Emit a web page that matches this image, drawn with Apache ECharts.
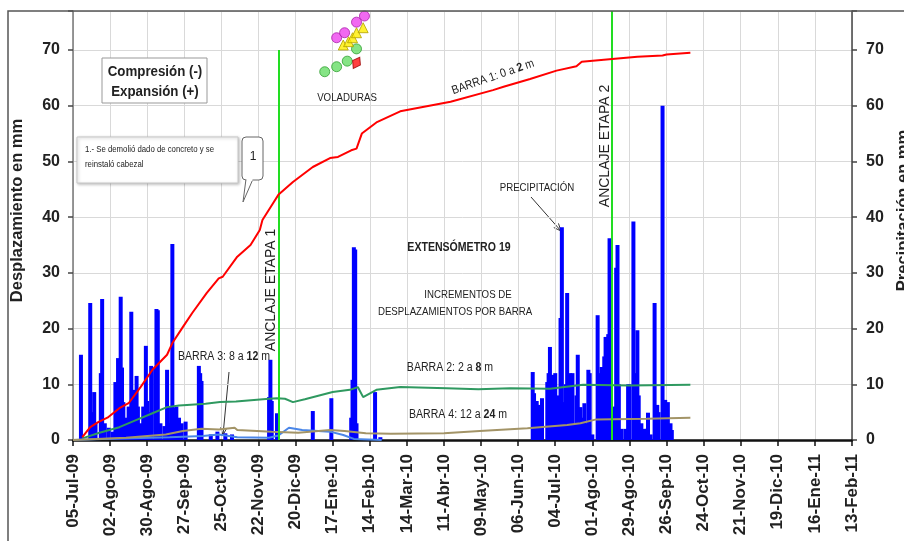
<!DOCTYPE html>
<html>
<head>
<meta charset="utf-8">
<script src="https://cdn.jsdelivr.net/npm/echarts@6/dist/echarts.min.js"></script>
<style>
  html, body { margin: 0; padding: 0; background: #fff; }
  #chart { width: 904px; height: 541px; }
</style>
</head>
<body>
<div id="chart"></div>
<script>
// eje x: dias contados desde 05-Jul-09, una marca cada 28 dias
var etiquetasX = ['05-Jul-09', '02-Ago-09', '30-Ago-09', '27-Sep-09', '25-Oct-09', '22-Nov-09',
  '20-Dic-09', '17-Ene-10', '14-Feb-10', '14-Mar-10', '11-Abr-10', '09-May-10', '06-Jun-10',
  '04-Jul-10', '01-Ago-10', '29-Ago-10', '26-Sep-10', '24-Oct-10', '21-Nov-10', '19-Dic-10',
  '16-Ene-11', '13-Feb-11']
var etiquetasY = [0, 10, 20, 30, 40, 50, 60, 70]

// precipitacion diaria (mm)
var lluviaDias = [6, 13, 14, 16, 17, 21, 22, 24, 27, 30, 32, 34, 36, 37, 38, 40, 42, 44, 46, 48, 49, 51,
  53, 55, 56, 58, 59, 62, 63, 64, 66, 69, 71, 72, 74, 75, 77, 78, 80, 82, 85, 95, 96, 97, 104, 109,
  115, 120, 148, 149, 150, 154, 181, 195, 210, 211, 212, 213, 214, 228, 232,
  347, 348, 350, 351, 354, 358, 359, 360, 362, 364, 366, 368, 369, 371, 372, 373, 375, 377, 378,
  380, 381, 383, 384, 386, 387, 389, 390, 392, 396, 398, 399, 401, 402, 404, 405, 406, 408, 410,
  411, 412, 414, 417, 419, 420, 423, 424, 426, 427, 429, 431, 433, 434, 436, 439, 441, 442, 445,
  447, 449, 451, 452]
var lluviaMm = [15.3, 24.6, 5, 8.6, 3, 12, 25.3, 3, 2.2, 1.5, 10.4, 14.7, 25.7, 13, 6.8, 4, 6, 23, 9,
  11.5, 6, 3, 6, 16.9, 7, 5, 13.3, 13, 23.5, 23.3, 3, 2.5, 12.6, 3, 6, 35.2, 5.8, 6, 4, 3, 3.3, 13.3,
  12, 10.6, 1, 1.5, 1.2, 1, 7.7, 14.4, 7, 4.8, 5.2, 7.5, 4, 10.8, 34.6, 34.2, 3, 8.6, 0.5,
  12.2, 8.4, 7, 6.3, 7.5, 10.4, 12, 16.7, 11.7, 12, 8, 21.9, 38.2, 6.8, 10, 26.4, 12, 12, 3,
  8, 15.3, 5.9, 4, 6.6, 3, 12.6, 12, 1, 22.4, 12, 13.1, 15, 18.5, 19, 36.2, 10, 6, 30.9,
  35, 10, 2, 2, 10, 10, 39.2, 12, 19.7, 8, 3, 2, 2, 4.9, 1, 24.6, 6.3, 5, 60,
  7.2, 6.8, 3, 1.8]

// barras del extensometro (mm)
var barra1Dias = [7, 13, 19, 26, 35, 42, 51, 60, 71, 75, 83, 90, 101, 110, 113, 124, 134, 141, 143,
  151, 155, 166, 181, 194, 200, 210, 214, 218, 229, 247, 269, 285, 317, 325, 345, 365, 380, 384,
  407, 426, 445, 448, 466]
var barra1Mm = [0.5, 2.3, 3.2, 4.0, 5.7, 6.6, 9.5, 12.6, 15.3, 17.4, 20.3, 22.8, 26.4, 29, 29.3, 32.9,
  35, 37.7, 39.5, 42.5, 44, 46.3, 49, 50.6, 50.8, 52, 52.3, 55, 57, 59, 60, 60.7, 62.8, 63.4, 64.8,
  66.3, 67.1, 67.9, 68.4, 68.8, 69, 69.2, 69.5]

var barra2Dias = [7, 20, 35, 48, 60, 71, 80, 86, 100, 111, 123, 148, 154, 160, 166, 175, 196, 209, 215,
  219, 229, 247, 282, 306, 330, 360, 385, 420, 466]
var barra2Mm = [0.3, 1.3, 2.3, 3.6, 4.8, 5.9, 6.2, 6.3, 6.5, 6.8, 6.9, 7.4, 7.5, 7.4, 6.8, 7.3, 8.6, 9,
  9.5, 7.7, 9, 9.5, 9.3, 9.1, 9.3, 9.2, 9.9, 9.8, 9.9]

var barra3Dias = [0, 22, 73, 98, 110, 124, 148, 155, 163, 173, 194, 204, 212, 233]
var barra3Mm = [0, 0.2, 0.5, 0.7, 1.0, 0.5, 0.4, 0.8, 2.2, 1.8, 1.5, 0.9, 0.2, 0]

var barra4Dias = [0, 40, 70, 83, 97, 110, 122, 124, 150, 170, 194, 205, 221, 240, 280, 307, 343, 373,
  383, 395, 433, 466]
var barra4Mm = [0, 0.4, 1.0, 1.6, 2, 1.9, 2.2, 1.8, 1.5, 1.3, 1.8, 1.6, 1.2, 1.1, 1.2, 1.6, 2.1, 2.7,
  3, 3.7, 3.8, 4]

// voladuras
var volVerdeDias = [190, 199, 207, 214]
var volVerdeMm = [66.1, 67, 68, 70.2]
var volMagentaDias = [199, 205, 214, 220]
var volMagentaMm = [72.2, 73.1, 75, 76.1]
var volAmarilloDias = [204, 208, 211, 214, 219]
var volAmarilloMm = [70.9, 71.5, 72.2, 73.1, 74]
var volRojoDias = [214]
var volRojoMm = [67.7]

// anclajes
var anclajeDias = [155.5, 407]

function pares (xs, ys) {
  return xs.map(function (x, i) { return [x, ys[i]] })
}

var fuente = 'Liberation Sans, Arial, sans-serif'

function txt (x, y, s, size, extra) {
  extra = extra || {}
  return {
    type: 'text', x: x, y: y, z: 50,
    rotation: extra.rot || 0,
    scaleX: extra.sx || 0.88,
    style: {
      text: s, fontSize: size, fontFamily: fuente,
      fontWeight: extra.bold ? 'bold' : 'normal',
      fill: extra.color || '#222',
      align: extra.align || 'center', verticalAlign: 'middle',
      rich: { b: { fontSize: size, fontFamily: fuente, fontWeight: 'bold', fill: '#222' } }
    }
  }
}

function flecha (x1, y1, x2, y2) {
  var a = Math.atan2(y2 - y1, x2 - x1)
  var h = 8
  return {
    type: 'group', z: 50,
    children: [
      { type: 'line', shape: { x1: x1, y1: y1, x2: x2, y2: y2 }, style: { stroke: '#333', lineWidth: 1 } },
      { type: 'polyline', shape: { points: [
        [x2 - h * Math.cos(a - 0.4), y2 - h * Math.sin(a - 0.4)], [x2, y2],
        [x2 - h * Math.cos(a + 0.4), y2 - h * Math.sin(a + 0.4)]] },
        style: { stroke: '#333', lineWidth: 1, fill: null } }
    ]
  }
}

var chart = echarts.init(document.getElementById('chart'))

var ejeY = function (pos) {
  return {
    type: 'value', position: pos, min: 0, max: 77, interval: 10,
    name: pos === 'left' ? 'Desplazamiento en mm' : 'Precipitación en mm',
    nameLocation: 'middle',
    nameGap: pos === 'left' ? 47 : 38,
    nameTextStyle: { fontSize: 16.5, fontWeight: 'bold', fontFamily: fuente, color: '#222',
      padding: [0, 0, 0, 30] },
    axisLine: { show: true, lineStyle: { color: pos === 'left' ? '#777' : '#444', width: 1.5 } },
    axisTick: { show: true, length: 5, lineStyle: { color: '#444', width: 1.5 } },
    axisLabel: {
      fontSize: 16, fontWeight: 'bold', fontFamily: fuente, color: '#222',
      margin: pos === 'left' ? 13 : 14,
      formatter: function (v) { return etiquetasY.indexOf(v) >= 0 ? String(v) : '' }
    },
    splitLine: { show: pos === 'left', lineStyle: { color: '#d9d9d9', width: 1 } }
  }
}

var option = {
  backgroundColor: '#fff',
  animation: false,
  grid: { left: 73, right: 52, top: 11, bottom: 101, containLabel: false, outerBoundsMode: 'none' },
  xAxis: {
    type: 'value', min: 0, max: 588, interval: 28,
    axisLine: { show: true, onZero: false, lineStyle: { color: '#111', width: 2.5 } },
    axisTick: { show: true, length: 6, lineStyle: { color: '#111', width: 1.5 } },
    axisLabel: {
      rotate: 90, interval: 0, margin: 14,
      fontSize: 17, fontWeight: 'bold', fontFamily: fuente, color: '#222',
      formatter: function (v) { return etiquetasX[Math.round(v / 28)] }
    },
    splitLine: { show: true, lineStyle: { color: '#d9d9d9', width: 1 } }
  },
  yAxis: [ejeY('left'), ejeY('right')],
  series: [
    {
      name: 'Precipitación', type: 'bar', yAxisIndex: 1, barWidth: 4,
      itemStyle: { color: '#0000ff' },
      data: pares(lluviaDias, lluviaMm),
      z: 2,
      markLine: {
        silent: true, symbol: 'none', label: { show: false },
        lineStyle: { color: '#22dd22', width: 2, type: 'solid' },
        data: [
          [{ coord: [anclajeDias[0], 0] }, { coord: [anclajeDias[0], 70] }],
          [{ coord: [anclajeDias[1], 0] }, { coord: [anclajeDias[1], 77] }]
        ]
      }
    },
    { name: 'BARRA 1', type: 'line', showSymbol: false, z: 5, data: pares(barra1Dias, barra1Mm),
      lineStyle: { color: '#ff0000', width: 2 } },
    { name: 'BARRA 2', type: 'line', showSymbol: false, z: 4, data: pares(barra2Dias, barra2Mm),
      lineStyle: { color: '#2f9960', width: 2 } },
    { name: 'BARRA 3', type: 'line', showSymbol: false, z: 4, data: pares(barra3Dias, barra3Mm),
      lineStyle: { color: '#4a86e8', width: 2 } },
    { name: 'BARRA 4', type: 'line', showSymbol: false, z: 4, data: pares(barra4Dias, barra4Mm),
      lineStyle: { color: '#a39467', width: 2 } },
    { type: 'scatter', symbol: 'circle', symbolSize: 10, z: 6, data: pares(volVerdeDias, volVerdeMm),
      itemStyle: { color: '#66dd66', borderColor: '#33a033', borderWidth: 1 } },
    { type: 'scatter', symbol: 'diamond', symbolSize: [9, 13], symbolRotate: -30, z: 6,
      data: pares(volRojoDias, volRojoMm),
      itemStyle: { color: '#ff1010', borderColor: '#990000', borderWidth: 1 } },
    { type: 'scatter', symbol: 'circle', symbolSize: 10, z: 6, data: pares(volMagentaDias, volMagentaMm),
      itemStyle: { color: '#ee44ee', borderColor: '#aa22aa', borderWidth: 1 } },
    { type: 'scatter', symbol: 'triangle', symbolSize: 10, z: 7, data: pares(volAmarilloDias, volAmarilloMm),
      itemStyle: { color: '#ffee00', borderColor: '#b0a000', borderWidth: 1 } }
  ],
  graphic: [
    // marco exterior
    { type: 'rect', z: 100, silent: true, shape: { x: 8, y: 11, width: 2000, height: 2000 },
      style: { fill: null, stroke: '#555', lineWidth: 1.5 } },
    // cuadro compresion / expansion
    { type: 'rect', z: 40, shape: { x: 102, y: 58, width: 105, height: 45 },
      style: { fill: '#fff', stroke: '#999', lineWidth: 1 } },
    txt(155, 72, 'Compresión (-)', 14, { bold: true, sx: 0.95 }),
    txt(155, 92, 'Expansión (+)', 14, { bold: true, sx: 0.95 }),
    // nota 1
    { type: 'rect', z: 40, shape: { x: 77, y: 137, width: 161, height: 46 },
      style: { fill: '#fff', stroke: '#c8c8c8', lineWidth: 1, shadowBlur: 3, shadowColor: 'rgba(0,0,0,0.25)', shadowOffsetX: 1, shadowOffsetY: 1 } },
    txt(85, 149, '1.- Se demolió dado de concreto y se', 9.5, { align: 'left', sx: 0.82 }),
    txt(85, 164, 'reinstaló cabezal', 9.5, { align: 'left', sx: 0.82 }),
    { type: 'polygon', z: 41, shape: { points: [[246, 179], [243, 202], [253, 179]] },
      style: { fill: '#fff', stroke: '#666', lineWidth: 1 } },
    { type: 'rect', z: 42, shape: { x: 242, y: 137, width: 21, height: 43, r: 4 },
      style: { fill: '#fff', stroke: '#666', lineWidth: 1 } },
    { type: 'rect', z: 43, shape: { x: 246.5, y: 177, width: 6, height: 4 }, style: { fill: '#fff' } },
    txt(253, 157, '1', 12, { sx: 1 }),
    // textos
    txt(347, 98, 'VOLADURAS', 11),
    txt(493, 77, 'BARRA 1: 0 a {b|2} m', 12, { rot: 19 * Math.PI / 180 }),
    txt(537, 188, 'PRECIPITACIÓN', 11),
    txt(459, 248, 'EXTENSÓMETRO 19', 12, { bold: true }),
    txt(468, 295, 'INCREMENTOS DE', 11),
    txt(455, 312, 'DESPLAZAMIENTOS POR BARRA', 11),
    txt(450, 368, 'BARRA 2: 2 a {b|8} m', 12),
    txt(458, 415, 'BARRA 4: 12 a {b|24} m', 12),
    txt(224, 357, 'BARRA 3: 8 a {b|12} m', 12),
    txt(271, 290, 'ANCLAJE ETAPA 1', 14, { rot: Math.PI / 2, sx: 1 }),
    txt(605, 146, 'ANCLAJE ETAPA 2', 14, { rot: Math.PI / 2, sx: 1 }),
    flecha(531, 197, 561, 231),
    flecha(229, 372, 223, 435)
  ]
}

chart.setOption(option)
</script>
</body>
</html>
